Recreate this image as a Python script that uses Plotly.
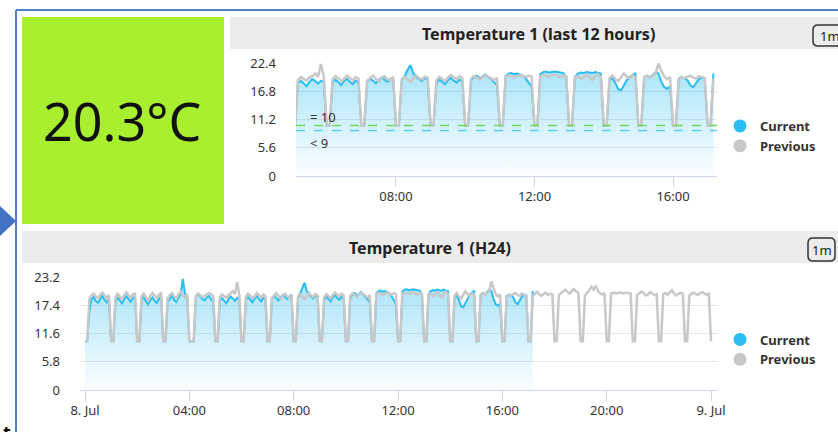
import plotly.graph_objects as go
import pandas as pd

W, H = 838, 432

# ---------------- data ----------------
DAY = "2024-07-08"
STEP = "5min"

# previous day, 5-minute samples from 00:00 to 24:00 (one row per hour)
PREVIOUS = [
    10, 10, 18.6, 19.4, 19.8, 19.2, 18.9, 19.6, 20.0, 19.3, 18.8, 19.5,
    10, 10, 18.9, 19.7, 19.1, 18.6, 19.4, 20.1, 19.5, 19.0, 19.6, 19.9,
    10, 10, 19.2, 19.8, 19.0, 18.4, 19.3, 19.9, 19.4, 18.9, 19.5, 20.0,
    10, 10, 18.8, 19.5, 19.9, 19.2, 18.7, 19.6, 20.2, 19.4, 19.1, 19.7,
    10, 10, 10, 19.4, 19.8, 19.5, 19.1, 19.3, 19.7, 19.9, 19.6, 19.2,
    10, 10, 19.0, 19.6, 19.3, 18.9, 19.5, 19.8, 20.3, 19.7, 22.2, 19.6,
    10, 10, 19.1, 19.8, 19.4, 18.8, 19.2, 19.9, 19.5, 19.0, 19.6, 19.3,
    10, 10, 18.9, 19.5, 19.9, 19.3, 18.7, 19.4, 19.8, 19.2, 18.9, 19.6,
    10, 10, 19.2, 19.6, 19.0, 18.6, 19.3, 19.9, 19.4, 19.1, 19.7, 19.5,
    10, 10, 19.0, 19.7, 19.3, 18.8, 19.5, 20.0, 19.6, 19.2, 19.8, 19.4,
    10, 10, 19.3, 19.8, 19.5, 19.1, 19.6, 19.9, 19.7, 19.3, 19.0, 19.5,
    10, 10, 19.6, 19.9, 19.8, 19.5, 19.7, 20.0, 19.8, 19.6, 19.9, 19.7,
    10, 10, 19.8, 20.0, 19.9, 19.7, 19.9, 20.1, 19.8, 19.6, 19.9, 19.8,
    10, 10, 19.5, 19.8, 19.3, 19.6, 20.1, 19.5, 19.0, 19.7, 20.2, 19.6,
    10, 10, 19.4, 19.9, 19.2, 18.8, 19.6, 20.3, 19.7, 19.3, 19.9, 19.6,
    10, 10, 19.6, 19.9, 19.5, 19.8, 20.4, 22.3, 20.8, 19.7, 19.2, 19.6,
    10, 10, 19.0, 19.6, 19.4, 19.7, 19.9, 19.5, 19.3, 19.8, 19.6, 19.4,
    10, 10, 19.3, 19.8, 20.2, 19.6, 19.3, 19.7, 20.0, 19.5, 19.8, 19.6,
    10, 10, 19.5, 19.9, 20.3, 20.6, 20.1, 19.8, 20.4, 20.7, 20.2, 19.9,
    10, 10, 19.4, 19.9, 20.5, 21.2, 20.6, 21.4, 20.3, 19.8, 19.6, 19.9,
    10, 10, 19.8, 20.0, 19.9, 19.8, 20.0, 19.9, 19.8, 20.0, 19.9, 19.8,
    10, 10, 19.5, 19.8, 20.2, 19.9, 19.4, 19.6, 20.1, 19.8, 19.5, 19.7,
    10, 10, 19.6, 19.9, 19.5, 20.1, 20.5, 19.8, 19.4, 19.7, 20.0, 19.8,
    10, 10, 19.4, 19.8, 20.0, 19.7, 19.5, 19.9, 20.1, 19.8, 19.6, 19.8,
    10,
]

# current day, 5-minute samples from 00:00 to 17:10
CURRENT = [
    10, 10, 16.1, 18.6, 19.1, 18.3, 17.9, 18.8, 19.4, 18.5, 18.0, 18.9,
    10, 10, 18.2, 19.0, 18.4, 17.8, 18.6, 19.3, 18.7, 18.1, 18.8, 19.2,
    10, 10, 18.5, 19.1, 18.2, 17.6, 18.4, 19.0, 18.3, 17.9, 18.7, 19.3,
    10, 10, 18.0, 18.8, 19.4, 18.5, 18.1, 19.0, 19.6, 22.8, 19.8, 19.1,
    10, 10, 10, 19.2, 19.6, 19.3, 18.7, 18.4, 19.0, 19.3, 18.6, 18.2,
    10, 10, 18.3, 18.9, 18.4, 17.8, 18.6, 19.2, 18.8, 18.3, 18.9, 18.6,
    10, 10, 18.5, 19.1, 18.6, 18.0, 18.8, 19.3, 18.7, 18.2, 18.9, 18.5,
    10, 10, 18.7, 19.3, 18.9, 18.4, 19.0, 19.5, 19.1, 18.7, 19.2, 19.6,
    10, 10, 19.0, 19.8, 21.0, 22.0, 20.4, 19.6, 19.2, 18.8, 19.4, 19.1,
    10, 10, 18.4, 19.2, 18.7, 18.2, 19.0, 19.5, 18.9, 18.5, 19.1, 18.8,
    10, 10, 19.0, 19.6, 19.9, 19.4, 19.7, 20.1, 19.6, 19.2, 18.6, 18.1,
    10, 10, 19.8, 20.3, 20.4, 20.2, 20.3, 20.1, 19.9, 19.3, 18.4, 17.7,
    10, 10, 20.2, 20.6, 20.7, 20.5, 20.6, 20.7, 20.6, 20.5, 20.4, 19.6,
    10, 10, 19.6, 20.3, 20.5, 20.4, 20.6, 20.5, 20.4, 20.6, 20.5, 20.3,
    10, 10, 19.0, 19.4, 18.5, 17.2, 17.0, 17.9, 19.0, 19.6, 20.0, 20.4,
    10, 10, 19.5, 19.9, 19.6, 20.0, 20.6, 20.3, 18.6, 17.6, 17.3, 17.8,
    10, 10, 19.3, 19.6, 19.4, 19.0, 18.0, 17.6, 18.4, 19.2, 19.5, 19.4,
    10, 10, 20.3,
]

CURRENT_VALUE_TEXT = "20.3°C"
TITLE_TOP = "Temperature 1 (last 12 hours)"
TITLE_H24 = "Temperature 1 (H24)"
BUTTON_TEXT = "1m"
SERIES_NAMES = ["Current", "Previous"]

TOP_X_TICKS = ["08:00", "12:00", "16:00"]
TOP_Y_TICKS = [0, 5.6, 11.2, 16.8, 22.4]
TOP_Y_LABELS = ["0", "5.6", "11.2", "16.8", "22.4"]
TOP_WINDOW = ["05:06:45", "17:16:15"]

H24_X_TICK_HOURS = [0, 4, 8, 12, 16, 20, 24]
H24_X_LABELS = ["8. Jul", "04:00", "08:00", "12:00", "16:00", "20:00", "9. Jul"]
H24_Y_TICKS = [0, 5.8, 11.6, 17.4, 23.2]
H24_Y_LABELS = ["0", "5.8", "11.6", "17.4", "23.2"]

THRESHOLDS = [10, 9]
THRESHOLD_LABELS = ["= 10", "< 9"]

# ---------------- styles ----------------
C_CUR = "#2bbdf2"
C_PREV = "#c8c8c8"
C_GRID = "#e6e6e6"
C_AXIS = "#ccd6eb"
C_TEXT = "#333333"
C_HEADER = "#ececec"
C_GREEN = "#a8ef30"
C_FRAME = "#4f81c7"
FONT = "Noto Sans"
THRESH_COLORS = ["#74d95a", "#5ccfee"]
THRESH_SHIFT = [9, -12]


def px(x):
    return x / W


def py(y):
    return 1 - y / H


times = pd.date_range(DAY + " 00:00", periods=len(PREVIOUS), freq=STEP)
cur_times = times[: len(CURRENT)]
day0 = pd.Timestamp(DAY)

top_lo = pd.Timestamp(DAY + " " + TOP_WINDOW[0])
top_hi = pd.Timestamp(DAY + " " + TOP_WINDOW[1])
cur_series = pd.Series(CURRENT, index=cur_times)
prev_series = pd.Series(PREVIOUS, index=times)
top_start = top_lo - pd.Timedelta(STEP)
cur_top = cur_series[cur_series.index >= top_start]
prev_top = prev_series[(prev_series.index >= top_start) & (prev_series.index <= cur_times[-1])]

fig = go.Figure()

grad = dict(type="vertical",
            colorscale=[[0, "rgba(43,189,242,0.02)"], [1, "rgba(43,189,242,0.42)"]])

# ---- top chart ----
fig.add_trace(go.Scatter(x=cur_top.index, y=cur_top.values, mode="lines",
                         line=dict(color=C_CUR, width=2), fill="tozeroy",
                         fillgradient=dict(grad, start=0, stop=TOP_Y_TICKS[-1]),
                         showlegend=False, xaxis="x", yaxis="y", hoverinfo="skip"))
fig.add_trace(go.Scatter(x=prev_top.index, y=prev_top.values, mode="lines",
                         line=dict(color=C_PREV, width=2.5),
                         showlegend=False, xaxis="x", yaxis="y", hoverinfo="skip"))
# ---- H24 chart ----
fig.add_trace(go.Scatter(x=cur_times, y=CURRENT, mode="lines",
                         line=dict(color=C_CUR, width=2), fill="tozeroy",
                         fillgradient=dict(grad, start=0, stop=H24_Y_TICKS[-1]),
                         showlegend=False, xaxis="x2", yaxis="y2", hoverinfo="skip"))
fig.add_trace(go.Scatter(x=times, y=PREVIOUS, mode="lines",
                         line=dict(color=C_PREV, width=2.5),
                         showlegend=False, xaxis="x2", yaxis="y2", hoverinfo="skip"))

# legend entries
for lg, xa, ya in [("legend", "x", "y"), ("legend2", "x2", "y2")]:
    for name, col in zip(SERIES_NAMES, [C_CUR, C_PREV]):
        fig.add_trace(go.Scatter(x=[None], y=[None], mode="markers", name=name,
                                 marker=dict(size=13, color=col), legend=lg,
                                 xaxis=xa, yaxis=ya))

top_tickvals = [pd.Timestamp(DAY + " " + t) for t in TOP_X_TICKS]
h24_tickvals = [day0 + pd.Timedelta(hours=h) for h in H24_X_TICK_HOURS]

axis_font = dict(family=FONT, size=13, color=C_TEXT)
xcommon = dict(type="date", showgrid=False, showline=True, linecolor=C_AXIS,
               linewidth=1, ticks="outside", ticklen=10, tickcolor=C_AXIS,
               tickfont=axis_font, zeroline=False, fixedrange=True,
               ticklabelstandoff=-2)
ycommon = dict(showgrid=True, gridcolor=C_GRID, gridwidth=1, zeroline=False,
               showline=False, ticks="", tickfont=axis_font, ticklabelstandoff=19,
               fixedrange=True)

legend_font = dict(family=FONT, size=13, color=C_TEXT, weight="bold")

fig.update_layout(
    width=W, height=H, margin=dict(l=0, r=0, t=0, b=0, pad=0, autoexpand=False),
    paper_bgcolor="white", plot_bgcolor="white",
    font=dict(family=FONT, color=C_TEXT),
    hovermode=False,
    xaxis=dict(xcommon, domain=[px(296), px(717)], anchor="y",
               range=[top_lo, top_hi], tickvals=top_tickvals, ticktext=TOP_X_TICKS),
    yaxis=dict(ycommon, domain=[py(176), py(63)], anchor="x",
               range=[0, TOP_Y_TICKS[-1]], tickvals=TOP_Y_TICKS, ticktext=TOP_Y_LABELS),
    xaxis2=dict(xcommon, domain=[px(80), px(718)], anchor="y2",
                range=[day0 - pd.Timedelta(minutes=11.5), day0 + pd.Timedelta(hours=24, minutes=16)],
                tickvals=h24_tickvals, ticktext=H24_X_LABELS),
    yaxis2=dict(ycommon, domain=[py(390), py(277)], anchor="x2",
                range=[0, H24_Y_TICKS[-1]], tickvals=H24_Y_TICKS, ticktext=H24_Y_LABELS),
    legend=dict(x=px(720), y=py(136), xanchor="left", yanchor="middle",
                font=legend_font, bgcolor="rgba(0,0,0,0)", itemclick=False),
    legend2=dict(x=px(720), y=py(349.5), xanchor="left", yanchor="middle",
                 font=legend_font, bgcolor="rgba(0,0,0,0)", itemclick=False),
)


def rrect(x0, y0, x1, y1, r):
    X0, X1 = px(x0), px(x1)
    Y0, Y1 = py(y0), py(y1)
    rx, ry = r / W, r / H
    return (f"M {X0+rx},{Y0} L {X1-rx},{Y0} Q {X1},{Y0} {X1},{Y0-ry} "
            f"L {X1},{Y1+ry} Q {X1},{Y1} {X1-rx},{Y1} L {X0+rx},{Y1} "
            f"Q {X0},{Y1} {X0},{Y1+ry} L {X0},{Y0-ry} Q {X0},{Y0} {X0+rx},{Y0} Z")


shapes = [
    # frame lines
    dict(type="line", xref="paper", yref="paper", x0=px(16), x1=px(838), y0=py(10), y1=py(10),
         line=dict(color=C_FRAME, width=2)),
    dict(type="line", xref="paper", yref="paper", x0=px(16), x1=px(16), y0=py(10), y1=py(432),
         line=dict(color=C_FRAME, width=2)),
    # arrow
    dict(type="path", xref="paper", yref="paper",
         path=f"M {px(0)},{py(206)} L {px(16)},{py(221)} L {px(0)},{py(236)} Z",
         fillcolor="#4472c4", line=dict(width=0)),
    # green value box
    dict(type="rect", xref="paper", yref="paper", x0=px(22), x1=px(224), y0=py(17), y1=py(224),
         fillcolor=C_GREEN, line=dict(width=0), layer="below"),
    # headers
    dict(type="rect", xref="paper", yref="paper", x0=px(230), x1=px(838), y0=py(17), y1=py(49),
         fillcolor=C_HEADER, line=dict(width=0), layer="below"),
    dict(type="rect", xref="paper", yref="paper", x0=px(22), x1=px(838), y0=py(231), y1=py(263),
         fillcolor=C_HEADER, line=dict(width=0), layer="below"),
    # 1m buttons
    dict(type="path", xref="paper", yref="paper", path=rrect(813, 25, 846, 46, 5),
         line=dict(color="#333333", width=1.5)),
    dict(type="path", xref="paper", yref="paper", path=rrect(808, 238, 835, 261, 5),
         line=dict(color="#333333", width=1.5)),
]
for val, col in zip(THRESHOLDS, THRESH_COLORS):
    shapes.append(dict(type="line", xref="x domain", yref="y", x0=0, x1=1, y0=val, y1=val,
                       line=dict(color=col, width=1.5, dash="dash")))
fig.update_layout(shapes=shapes)


def txt(text, x, y, size, color="#222222", weight="normal", xanchor="center", yanchor="middle"):
    return dict(text=text, x=px(x), y=py(y), xref="paper", yref="paper", showarrow=False,
                xanchor=xanchor, yanchor=yanchor,
                font=dict(family=FONT, size=size, color=color, weight=weight))


ann = [
    txt(CURRENT_VALUE_TEXT, 122, 121, 52, color="#111111"),
    txt(TITLE_TOP, 538, 34, 16, weight="bold"),
    txt(TITLE_H24, 430, 248, 16, weight="bold"),
    txt(BUTTON_TEXT, 818, 35.5, 13, xanchor="left"),
    txt(BUTTON_TEXT, 821.5, 249.5, 13),
    txt("t", 1, 418, 18, color="#000000", weight="bold", xanchor="left", yanchor="top"),
]
for val, lab, sh in zip(THRESHOLDS, THRESHOLD_LABELS, THRESH_SHIFT):
    ann.append(dict(text=lab, xref="x domain", yref="y", x=0.028, y=val, yshift=sh,
                    xanchor="left", yanchor="middle", showarrow=False,
                    font=dict(family=FONT, size=13, color=C_TEXT)))
fig.update_layout(annotations=ann)

fig.write_html("out.html", config={"displayModeBar": False},
               post_script="document.body.style.margin='0px';document.body.style.overflow='hidden';")
